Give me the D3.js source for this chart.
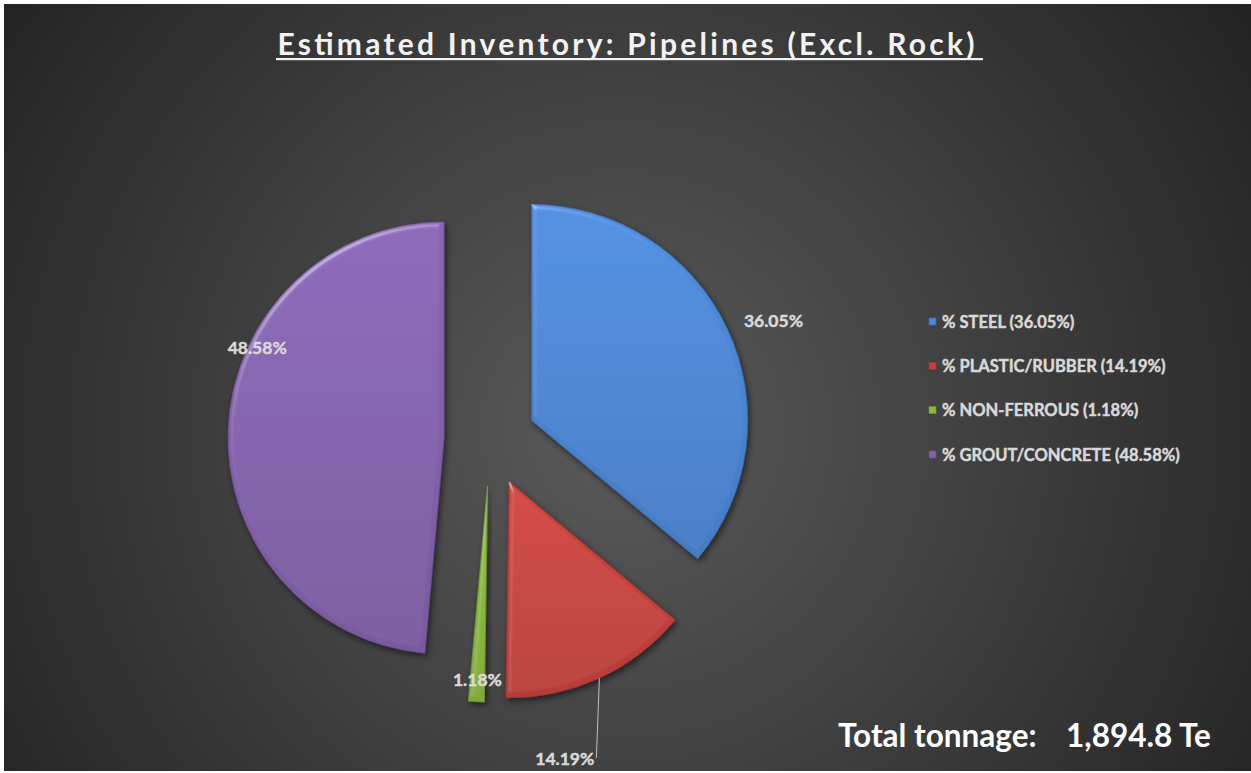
<!DOCTYPE html>
<html lang="en">
<head>
  <meta charset="UTF-8">
  <title>Estimated Inventory: Pipelines</title>
  <script src="https://d3js.org/d3.v7.min.js" charset="utf-8"></script>
  <style>
    body { margin: 0; background: #fff; }
    text { font-family: Lato, sans-serif; font-weight: 700; }
    .thick { stroke: #d9d9d9; stroke-width: 0.45; }
  </style>
</head>
<body>
</body>
<script>
  // data
  var materials = ['% STEEL', '% PLASTIC/RUBBER', '% NON-FERROUS', '% GROUT/CONCRETE']
  var shares = [36.05, 14.19, 1.18, 48.58]
  var colors = ['#4a87d6', '#c8403c', '#8cba3c', '#8461ae']
  var totalTonnage = '1,894.8 Te'
  var title = 'Estimated Inventory: Pipelines (Excl. Rock)'

  // label placement: angle in degrees (from 12 o'clock) and distance as a fraction of radius
  var labelPos = [[67.7, 1.21], [155.2, 1.28], [183, 0.90], [295.7, 0.96]]

  var W = 1251, H = 773
  var cx = 490, cy = 440, r = 216, explode = 46

  var svg = d3.select('body').append('svg').attr('width', W).attr('height', H)
  var defs = svg.append('defs')

  var bg = defs.append('radialGradient').attr('id', 'bg')
    .attr('gradientUnits', 'userSpaceOnUse')
    .attr('cx', 620).attr('cy', 430).attr('r', 760)
  bg.append('stop').attr('offset', 0).attr('stop-color', '#5a5a5a')
  bg.append('stop').attr('offset', 1).attr('stop-color', '#232323')

  var f = defs.append('filter').attr('id', 'bevel')
    .attr('x', '-10%').attr('y', '-10%').attr('width', '130%').attr('height', '130%')
  f.append('feGaussianBlur').attr('in', 'SourceAlpha').attr('stdDeviation', 2.5).attr('result', 'blur')
  var spec = f.append('feSpecularLighting').attr('in', 'blur').attr('surfaceScale', 3)
    .attr('specularConstant', 0.7).attr('specularExponent', 30)
    .attr('lighting-color', '#ffffff').attr('result', 'spec')
  spec.append('feDistantLight').attr('azimuth', 235).attr('elevation', 40)
  f.append('feComposite').attr('in', 'spec').attr('in2', 'SourceAlpha').attr('operator', 'in').attr('result', 'specIn')
  f.append('feComposite').attr('in', 'SourceGraphic').attr('in2', 'specIn').attr('operator', 'arithmetic')
    .attr('k1', 0).attr('k2', 1).attr('k3', 0.45).attr('k4', 0).attr('result', 'lit')
  f.append('feDropShadow').attr('in', 'lit').attr('dx', 2).attr('dy', 3).attr('stdDeviation', 3)
    .attr('flood-color', '#000').attr('flood-opacity', 0.55)

  colors.forEach(function(c, i) {
    var g = defs.append('linearGradient').attr('id', 'g' + i)
      .attr('x1', 0).attr('y1', 0).attr('x2', 0).attr('y2', 1)
    g.append('stop').attr('offset', 0).attr('stop-color', d3.color(c).brighter(0.15))
    g.append('stop').attr('offset', 1).attr('stop-color', d3.color(c).darker(0.25))
  })

  svg.append('rect').attr('x', 4).attr('y', 4).attr('width', W - 4).attr('height', H - 6)
    .attr('fill', 'url(#bg)')

  // title
  svg.append('text').attr('x', 626).attr('y', 55).attr('text-anchor', 'middle')
    .attr('font-size', 30).attr('fill', '#f2f2f2')
    .attr('textLength', 697).attr('lengthAdjust', 'spacing')
    .text(title)
  svg.append('rect').attr('x', 276).attr('y', 58).attr('width', 707).attr('height', 2.2).attr('fill', '#f2f2f2')

  var pie = d3.pie().sort(null).value(function(d) { return d })
  var arcs = pie(shares)
  var arc = d3.arc().innerRadius(0).outerRadius(r)

  function offset(d) {
    var m = (d.startAngle + d.endAngle) / 2
    return [cx + explode * Math.sin(m), cy - explode * Math.cos(m)]
  }

  var slices = svg.append('g')
  slices.selectAll('path').data(arcs).enter().append('path')
    .attr('transform', function(d) { var o = offset(d); return 'translate(' + o[0] + ',' + o[1] + ')' })
    .attr('d', arc)
    .attr('fill', function(d, i) { return 'url(#g' + i + ')' })
    .attr('stroke', function(d, i) { return d3.color(colors[i]).darker(0.6) })
    .attr('stroke-width', 0.8)
    .attr('filter', 'url(#bevel)')

  // data labels
  var labels = svg.append('g')
  arcs.forEach(function(d, i) {
    var o = offset(d)
    var a = labelPos[i][0] * Math.PI / 180, k = labelPos[i][1]
    var lx = o[0] + k * r * Math.sin(a), ly = o[1] - k * r * Math.cos(a)
    var txt = shares[i].toFixed(2) + '%'
    if (i === 1) {
      var m = (d.startAngle + d.endAngle) / 2
      var ax = o[0] + r * Math.sin(m), ay = o[1] - r * Math.cos(m)
      labels.append('line').attr('x1', ax).attr('y1', ay).attr('x2', ax - 3).attr('y2', ay + 80)
        .attr('stroke', '#bfbfbf').attr('stroke-width', 1)
      labels.append('text').attr('class', 'thick').attr('x', ax - 5).attr('y', ay + 87).attr('text-anchor', 'end')
        .attr('font-size', 17.5).attr('fill', '#d9d9d9').text(txt)
    } else {
      labels.append('text').attr('class', 'thick').attr('x', lx).attr('y', ly).attr('text-anchor', 'middle')
        .attr('dy', '0.35em').attr('font-size', 17.5).attr('fill', '#d9d9d9').text(txt)
    }
  })

  // legend
  var y = d3.scalePoint().domain(materials).range([322, 455])
  var leg = svg.append('g').selectAll('g').data(materials).enter().append('g')
    .attr('transform', function(d) { return 'translate(929,' + y(d) + ')' })
  leg.append('rect').attr('x', 0).attr('y', -4).attr('width', 7).attr('height', 7)
    .attr('fill', function(d, i) { return colors[i] })
    .attr('stroke', function(d, i) { return d3.color(colors[i]).darker(0.7) }).attr('stroke-width', 0.6)
  leg.append('text').attr('class', 'thick').attr('x', 13).attr('dy', '0.35em').attr('font-size', 16.5)
    .attr('fill', '#d9d9d9')
    .text(function(d, i) { return d + ' (' + shares[i].toFixed(2) + '%)' })

  // total
  svg.append('text').attr('x', 838).attr('y', 747).attr('font-size', 31.5).attr('fill', '#ffffff')
    .text('Total tonnage:')
  svg.append('text').attr('x', 1066).attr('y', 747).attr('font-size', 31.5).attr('fill', '#ffffff')
    .text(totalTonnage)
</script>
</html>
